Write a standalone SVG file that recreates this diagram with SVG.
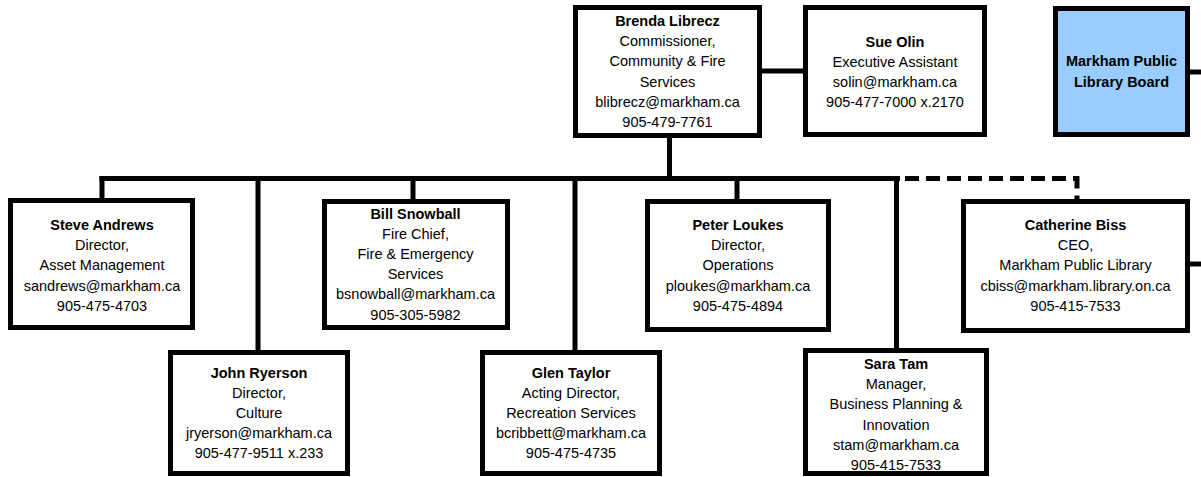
<svg xmlns="http://www.w3.org/2000/svg" width="1201" height="477" viewBox="0 0 1201 477">
  <style>
    .box { fill: #ffffff; stroke: #000000; stroke-width: 5; }
    .board { fill: #99ccff; stroke: #000000; stroke-width: 5; }
    .line { fill: none; stroke: #000000; stroke-width: 5; stroke-linecap: butt; }
    .dash { fill: none; stroke: #000000; stroke-width: 5; stroke-dasharray: 14 7; }
    text { font-family: "Liberation Sans", Arial, sans-serif; font-size: 14.5px; fill: #000000; text-anchor: middle; }
    .name { font-weight: bold; }
  </style>
  <rect x="0" y="0" width="1201" height="477" fill="#ffffff"/>

  <g id="connectors">
    <line class="line" x1="762" y1="71" x2="803" y2="71"/>
    <line class="line" x1="1190" y1="72" x2="1201" y2="72"/>
    <line class="line" x1="669.5" y1="138" x2="669.5" y2="181"/>
    <line class="line" x1="99.5" y1="178.5" x2="900" y2="178.5"/>
    <polyline class="line" points="102,176 102,198"/>
    <line class="line" x1="258" y1="178.5" x2="258" y2="350"/>
    <line class="line" x1="413" y1="178.5" x2="413" y2="199"/>
    <line class="line" x1="575" y1="178.5" x2="575" y2="350"/>
    <line class="line" x1="737" y1="178.5" x2="737" y2="199"/>
    <line class="line" x1="896.5" y1="176" x2="896.5" y2="348"/>
    <polyline class="dash" points="905,178.5 1077,178.5 1077,199"/>
    <line class="line" x1="1190" y1="264" x2="1201" y2="264"/>
  </g>

  <g id="brenda-librecz">
    <rect class="box" x="575.5" y="7.5" width="184" height="128"/>
    <text class="name" x="667.5" y="26">Brenda Librecz</text>
    <text x="667.5" y="46.2">Commissioner,</text>
    <text x="667.5" y="66.4">Community &amp; Fire</text>
    <text x="667.5" y="86.6">Services</text>
    <text x="667.5" y="106.8">blibrecz@markham.ca</text>
    <text x="667.5" y="127">905-479-7761</text>
  </g>

  <g id="sue-olin">
    <rect class="box" x="805.5" y="7.5" width="179" height="127"/>
    <text class="name" x="895" y="46.5">Sue Olin</text>
    <text x="895" y="66.7">Executive Assistant</text>
    <text x="895" y="86.9">solin@markham.ca</text>
    <text x="895" y="107.1">905-477-7000 x.2170</text>
  </g>

  <g id="library-board">
    <rect class="board" x="1055.5" y="8.5" width="132" height="126"/>
    <text class="name" x="1121.5" y="66">Markham Public</text>
    <text class="name" x="1121.5" y="86.5">Library Board</text>
  </g>

  <g id="steve-andrews">
    <rect class="box" x="10.5" y="200.5" width="182" height="127"/>
    <text class="name" x="102" y="230">Steve Andrews</text>
    <text x="102" y="250.2">Director,</text>
    <text x="102" y="270.4">Asset Management</text>
    <text x="102" y="290.6">sandrews@markham.ca</text>
    <text x="102" y="310.8">905-475-4703</text>
  </g>

  <g id="bill-snowball">
    <rect class="box" x="324.5" y="201.5" width="183" height="126"/>
    <text class="name" x="415.5" y="218.5">Bill Snowball</text>
    <text x="415.5" y="238.7">Fire Chief,</text>
    <text x="415.5" y="258.9">Fire &amp; Emergency</text>
    <text x="415.5" y="279.1">Services</text>
    <text x="415.5" y="299.3">bsnowball@markham.ca</text>
    <text x="415.5" y="319.5">905-305-5982</text>
  </g>

  <g id="peter-loukes">
    <rect class="box" x="647.5" y="201.5" width="181" height="128"/>
    <text class="name" x="738" y="230">Peter Loukes</text>
    <text x="738" y="250.2">Director,</text>
    <text x="738" y="270.4">Operations</text>
    <text x="738" y="290.6">ploukes@markham.ca</text>
    <text x="738" y="310.8">905-475-4894</text>
  </g>

  <g id="catherine-biss">
    <rect class="box" x="963.5" y="201.5" width="224" height="129"/>
    <text class="name" x="1075.5" y="230">Catherine Biss</text>
    <text x="1075.5" y="250.2">CEO,</text>
    <text x="1075.5" y="270.4">Markham Public Library</text>
    <text x="1075.5" y="290.6">cbiss@markham.library.on.ca</text>
    <text x="1075.5" y="310.8">905-415-7533</text>
  </g>

  <g id="john-ryerson">
    <rect class="box" x="170.5" y="352.5" width="177" height="121"/>
    <text class="name" x="259" y="378">John Ryerson</text>
    <text x="259" y="398">Director,</text>
    <text x="259" y="418">Culture</text>
    <text x="259" y="438">jryerson@markham.ca</text>
    <text x="259" y="458">905-477-9511 x.233</text>
  </g>

  <g id="glen-taylor">
    <rect class="box" x="482.5" y="352.5" width="177" height="121"/>
    <text class="name" x="571" y="378">Glen Taylor</text>
    <text x="571" y="398">Acting Director,</text>
    <text x="571" y="418">Recreation Services</text>
    <text x="571" y="438">bcribbett@markham.ca</text>
    <text x="571" y="458">905-475-4735</text>
  </g>

  <g id="sara-tam">
    <rect class="box" x="805.5" y="350.5" width="181" height="123"/>
    <text class="name" x="896" y="369">Sara Tam</text>
    <text x="896" y="389.2">Manager,</text>
    <text x="896" y="409.4">Business Planning &amp;</text>
    <text x="896" y="429.6">Innovation</text>
    <text x="896" y="449.8">stam@markham.ca</text>
    <text x="896" y="470">905-415-7533</text>
  </g>
</svg>
